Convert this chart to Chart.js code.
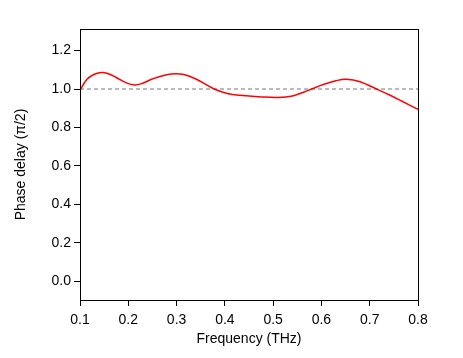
<!DOCTYPE html>
<html>
<head>
<meta charset="utf-8">
<script src="https://cdn.jsdelivr.net/npm/chart.js@4"></script>
<style>
  html, body { margin: 0; padding: 0; background: #fff; }
  #wrap { width: 463px; height: 358px; }
</style>
</head>
<body>
<div id="wrap"><canvas id="phaseChart"></canvas></div>
<script>
// Phase delay vs frequency
const freqTHz = [0.100, 0.115, 0.130, 0.145, 0.160, 0.175, 0.195, 0.213, 0.230, 0.250,
                 0.275, 0.295, 0.315, 0.340, 0.378, 0.405, 0.430, 0.470, 0.510, 0.540,
                 0.573, 0.600, 0.630, 0.652, 0.680, 0.714, 0.740, 0.765, 0.800];
const phaseDelay = [0.994, 1.052, 1.077, 1.086, 1.078, 1.060, 1.033, 1.021, 1.030, 1.052,
                    1.072, 1.079, 1.075, 1.052, 1.000, 0.977, 0.967, 0.960, 0.956, 0.964,
                    0.993, 1.020, 1.043, 1.051, 1.038, 1.000, 0.970, 0.939, 0.894];
const referenceLevel = 1.0;
const xTicks = [0.1, 0.2, 0.3, 0.4, 0.5, 0.6, 0.7, 0.8];
const yTicks = [0.0, 0.2, 0.4, 0.6, 0.8, 1.0, 1.2];

const fontFamily = "'Liberation Sans', Arial, Helvetica, sans-serif";

// box frame round the plot area
const frame = {
  id: "frame",
  afterDraw(chart) {
    const a = chart.chartArea, ctx = chart.ctx;
    ctx.save();
    ctx.strokeStyle = "#000";
    ctx.lineWidth = 1;
    ctx.strokeRect(Math.round(a.left) + 0.5, Math.round(a.top) + 0.5,
                   Math.round(a.right - a.left), Math.round(a.bottom - a.top));
    ctx.restore();
  }
};

new Chart(document.getElementById("phaseChart").getContext("2d"), {
  type: "line",
  data: {
    datasets: [
      {
        data: freqTHz.map((f, i) => ({ x: f, y: phaseDelay[i] })),
        borderColor: "#ff0000",
        borderWidth: 1.5,
        pointRadius: 0,
        tension: 0.4,
        fill: false
      },
      {
        data: [{ x: xTicks[0], y: referenceLevel }, { x: xTicks[xTicks.length - 1], y: referenceLevel }],
        borderColor: "#777777",
        borderWidth: 1,
        borderDash: [4, 3],
        pointRadius: 0,
        fill: false
      }
    ]
  },
  options: {
    responsive: true,
    maintainAspectRatio: false,
    animation: false,
    layout: { padding: { left: 0, right: 45, top: 29, bottom: 0 } },
    plugins: { legend: { display: false }, tooltip: { enabled: false } },
    scales: {
      x: {
        type: "linear",
        min: 0.1,
        max: 0.8,
        afterBuildTicks: s => { s.ticks = xTicks.map(v => ({ value: v })); },
        afterFit: s => { s.height = 58; },
        grid: { drawOnChartArea: false, drawTicks: true, tickLength: 6, color: "#000" },
        border: { display: false },
        ticks: {
          color: "#000",
          font: { family: fontFamily, size: 14 },
          padding: 6,
          maxRotation: 0,
          callback: v => v.toFixed(1)
        },
        title: {
          display: true,
          text: "Frequency (THz)",
          color: "#000",
          font: { family: fontFamily, size: 14 },
          padding: { top: 0, bottom: 10 }
        }
      },
      y: {
        type: "linear",
        min: -0.097,
        max: 1.312,
        afterBuildTicks: s => { s.ticks = yTicks.map(v => ({ value: v })); },
        afterFit: s => { s.width = 80; },
        grid: { drawOnChartArea: false, drawTicks: true, tickLength: 6, color: "#000" },
        border: { display: false },
        ticks: {
          color: "#000",
          font: { family: fontFamily, size: 14 },
          padding: 3,
          callback: v => v.toFixed(1)
        },
        title: {
          display: true,
          text: "Phase delay (\u03c0/2)",
          color: "#000",
          font: { family: fontFamily, size: 14 },
          padding: { top: 13, bottom: 0 }
        }
      }
    }
  },
  plugins: [frame]
});
</script>
</body>
</html>
